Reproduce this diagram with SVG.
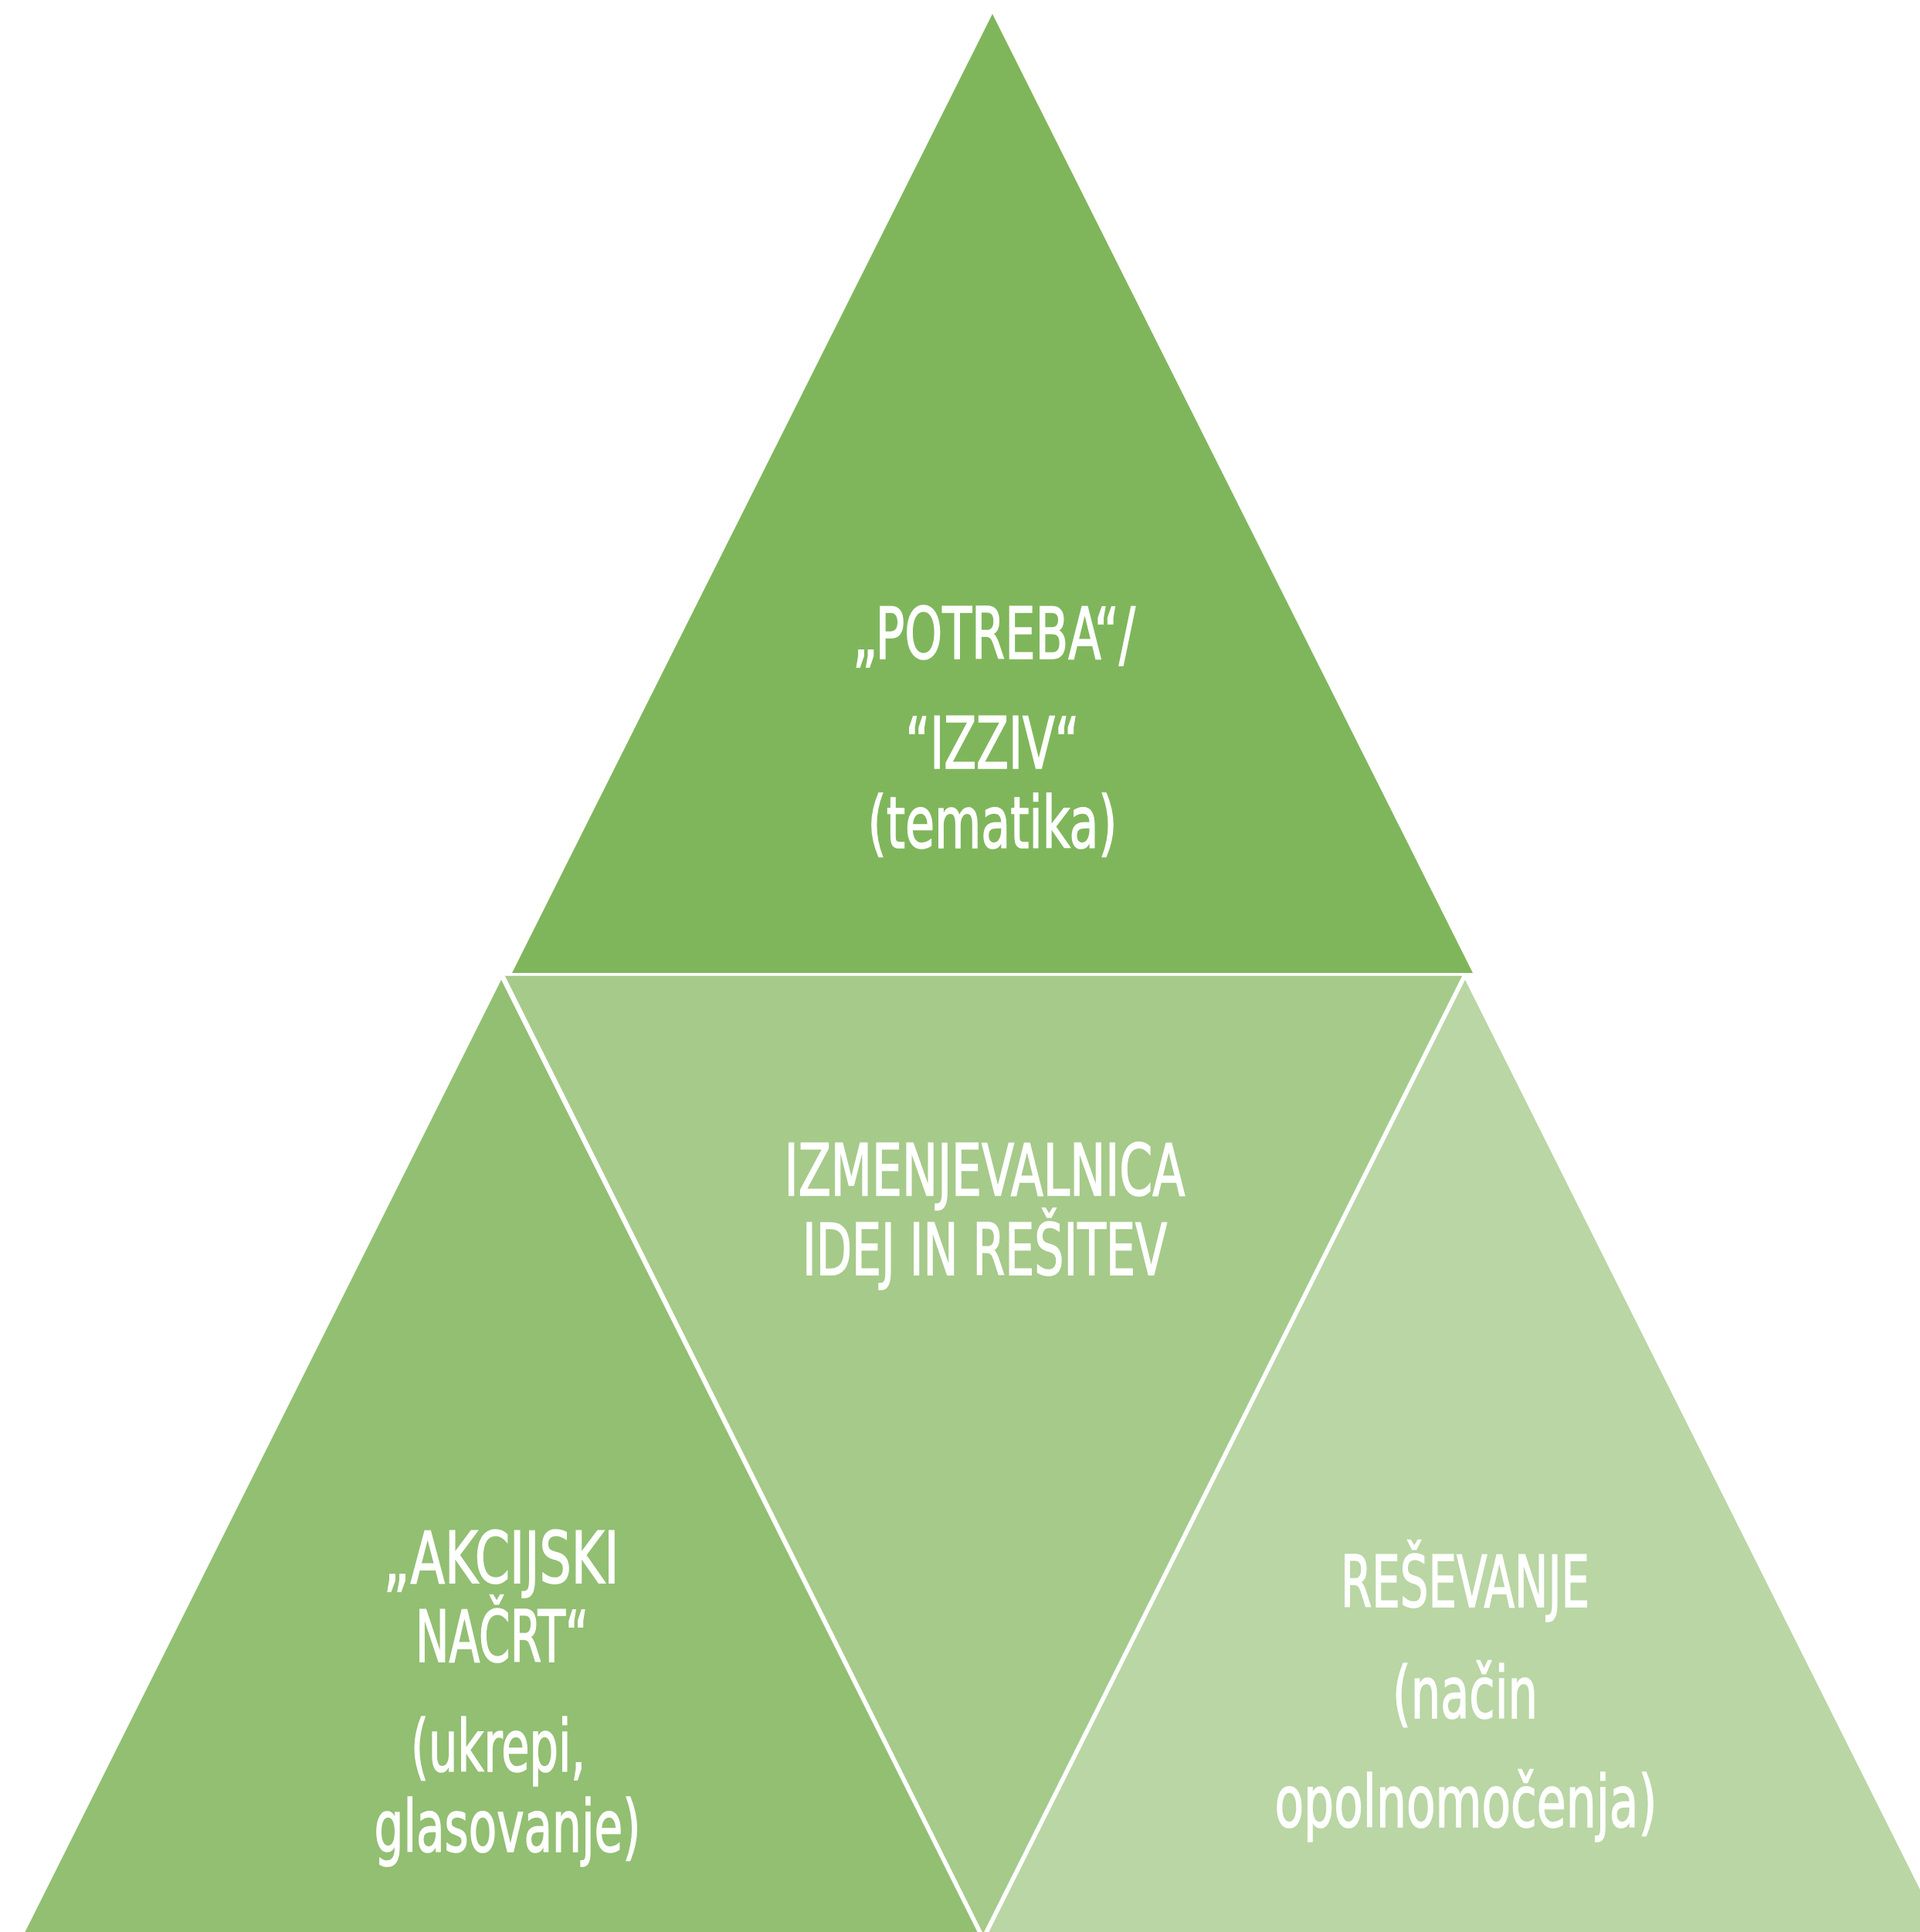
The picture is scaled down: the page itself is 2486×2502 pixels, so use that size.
<svg xmlns="http://www.w3.org/2000/svg" width="2486" height="2502" viewBox="0 0 2486 2502">
<style>
.tri{stroke:#ffffff;stroke-width:3.5;stroke-linejoin:miter}
.t{font-family:"Liberation Sans Narrow","DejaVu Sans Condensed","Liberation Sans",sans-serif;font-size:92px;fill:#ffffff;stroke:#ffffff;stroke-width:1.6;text-anchor:middle}
</style>
<rect width="2486" height="2502" fill="#ffffff"/>
<g id="connectors"></g>
<g id="node-potreba">
<polygon points="1285,18 663,1260 1907,1260" fill="#7FB65B"/>
<text class="t" x="1287" y="853" textLength="366" lengthAdjust="spacingAndGlyphs">„POTREBA“/</text>
<text class="t" x="1285" y="995" textLength="225" lengthAdjust="spacingAndGlyphs">“IZZIV“</text>
<text class="t" x="1285" y="1098" textLength="323" lengthAdjust="spacingAndGlyphs">(tematika)</text>
</g>
<g id="node-akcijski">
<polygon class="tri" points="649,1265 22,2519 1276,2519" fill="#92BF72"/>
<text class="t" x="649" y="2050" textLength="305" lengthAdjust="spacingAndGlyphs">„AKCIJSKI</text>
<text class="t" x="650" y="2152" textLength="224" lengthAdjust="spacingAndGlyphs">NAČRT“</text>
<text class="t" x="645" y="2294" textLength="226" lengthAdjust="spacingAndGlyphs">(ukrepi,</text>
<text class="t" x="657" y="2398" textLength="345" lengthAdjust="spacingAndGlyphs">glasovanje)</text>
</g>
<g id="node-resevanje">
<polygon class="tri" points="1897,1265 1270,2519 2524,2519" fill="#B9D6A4"/>
<text class="t" x="1897" y="2081" textLength="322" lengthAdjust="spacingAndGlyphs">REŠEVANJE</text>
<text class="t" x="1897" y="2225" textLength="188" lengthAdjust="spacingAndGlyphs">(način</text>
<text class="t" x="1898" y="2366" textLength="495" lengthAdjust="spacingAndGlyphs">opolnomočenja)</text>
</g>
<g id="node-izmenjevalnica">
<polygon class="tri" points="651,1262 1896,1262 1273,2508" fill="#A6CA8A"/>
<text class="t" x="1275" y="1548" textLength="519" lengthAdjust="spacingAndGlyphs">IZMENJEVALNICA</text>
<text class="t" x="1275" y="1651" textLength="472" lengthAdjust="spacingAndGlyphs">IDEJ IN REŠITEV</text>
</g>
</svg>
